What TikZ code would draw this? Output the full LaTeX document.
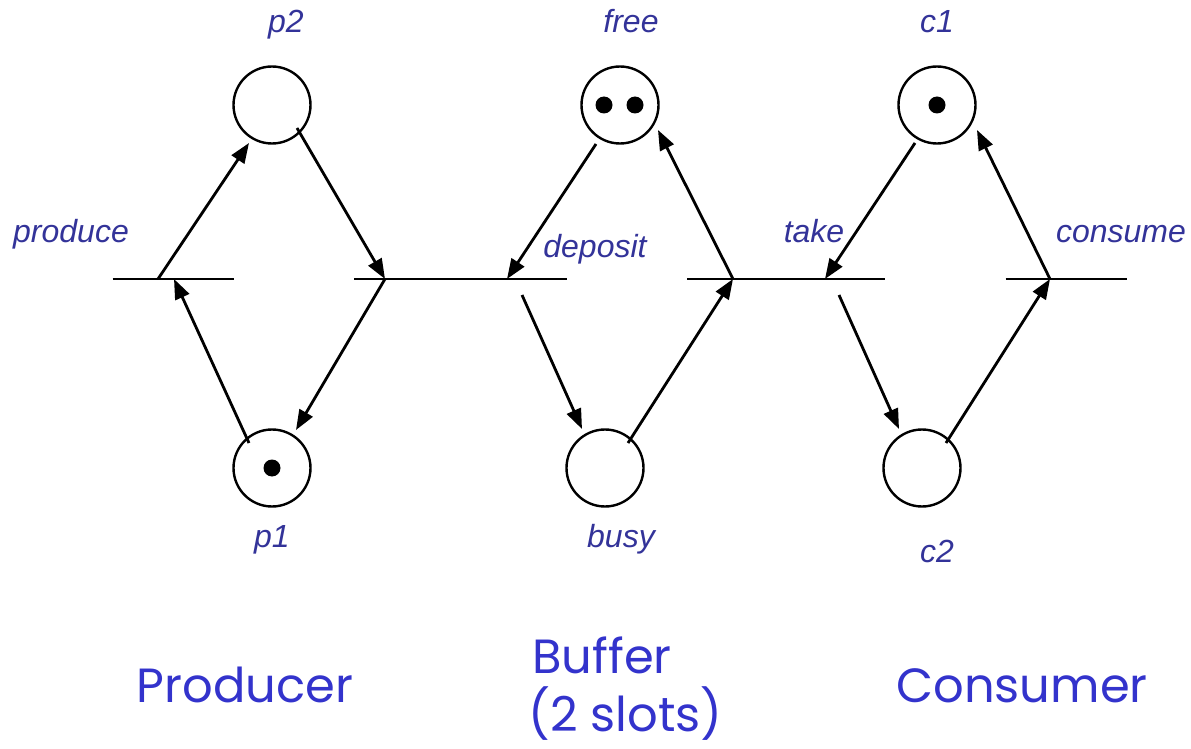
\documentclass[tikz,border=0pt]{standalone}
\usepackage{fontspec}
\setmainfont{Liberation Sans}
\newfontfamily\comicfont{Poppins}
\usetikzlibrary{arrows.meta}
\definecolor{lbl}{HTML}{333399}
\definecolor{big}{HTML}{3333CC}
\begin{document}
\begin{tikzpicture}[x=0.5pt,y=-0.5pt,
 place/.style={circle,draw,line width=1.2pt,minimum size=38.5pt,inner sep=0pt},
 token/.style={circle,fill=black,minimum size=8.5pt,inner sep=0pt},
 trans/.style={inner sep=0pt,minimum width=60.5pt,minimum height=0pt},
 tline/.style={line width=1.2pt},
 arc/.style={line width=1.4pt,-{Triangle[length=10pt,width=7.5pt]}},
 lab/.style={font=\fontsize{16}{19}\selectfont\itshape,text=lbl,anchor=base,inner sep=0pt},
 title/.style={font=\comicfont\fontsize{24}{28}\selectfont,text=big,anchor=base,inner sep=0pt}]
\useasboundingbox (0,0) rectangle (1191,749);
% places
\node[place] (p2) at (272,105) {};
\node[place] (p1) at (272,468) {};
\node[token] (p1tok) at (272,468) {};
\node[place] (free) at (620,105) {};
\node[token] (free1) at (604,105) {};
\node[token] (free2) at (635,105) {};
\node[place] (busy) at (605,468) {};
\node[place] (c1) at (937,105) {};
\node[token] (c1tok) at (937,105) {};
\node[place] (c2) at (922,468) {};
% transitions
\node[trans] (produce) at (173.5,279) {};
\node[trans] (depP) at (415,279) {};
\node[trans] (depB) at (506,279) {};
\node[trans] (takeB) at (748,279) {};
\node[trans] (takeC) at (824.5,279) {};
\node[trans] (consume) at (1066.5,279) {};
\foreach \t in {produce,depP,depB,takeB,takeC,consume}
  \draw[tline] (\t.west) -- (\t.east);
% arcs
\draw[arc] ([shift={(-23,-25)}]p1.center) -- ([shift={(0.5,0)}]produce.center);
\draw[arc] ([shift={(-15.5,0)}]produce.center) -- ([shift={(-23,38)}]p2.center);
\draw[arc] ([shift={(25,23)}]p2.center) -- ([shift={(-30,0)}]depP.center);
\draw[arc] ([shift={(-30,0)}]depP.center) -- ([shift={(24,-38)}]p1.center);
\draw[arc] ([shift={(-24,39)}]free.center) -- ([shift={(1,0)}]depB.center);
\draw[arc] ([shift={(16,16)}]depB.center) -- ([shift={(-23,-39)}]busy.center);
\draw[arc] ([shift={(23,-25)}]busy.center) -- ([shift={(-15,0)}]takeB.center);
\draw[arc] ([shift={(-15,0)}]takeB.center) -- ([shift={(38,25)}]free.center);
\draw[arc] ([shift={(-22,38)}]c1.center) -- ([shift={(0.5,0)}]takeC.center);
\draw[arc] ([shift={(14.5,16)}]takeC.center) -- ([shift={(-23,-39)}]c2.center);
\draw[arc] ([shift={(24,-25)}]c2.center) -- ([shift={(-16.5,0)}]consume.center);
\draw[arc] ([shift={(-16.5,0)}]consume.center) -- ([shift={(40,25)}]c1.center);
% labels
\node[lab] (lp2) at (286,33) {p2};
\node[lab] (lfree) at (631,33) {free};
\node[lab] (lc1) at (937,33) {c1};
\node[lab] (lproduce) at (71,243) {produce};
\node[lab] (ldeposit) at (595,257) {deposit};
\node[lab] (ltake) at (814,243) {take};
\node[lab] (lconsume) at (1121,243) {consume};
\node[lab] (lp1) at (272,547) {p1};
\node[lab] (lbusy) at (621,547) {busy};
\node[lab] (lc2) at (937,562) {c2};
% titles
\node[title] (tprod) at (245,702) {Producer};
\node[title,anchor=base west] (tbuf1) at (532,673) {Buffer};
\node[title,anchor=base west] (tbuf2) at (528,731) {(2 slots)};
\node[title] (tcons) at (1022,702) {Consumer};
\end{tikzpicture}
\end{document}
